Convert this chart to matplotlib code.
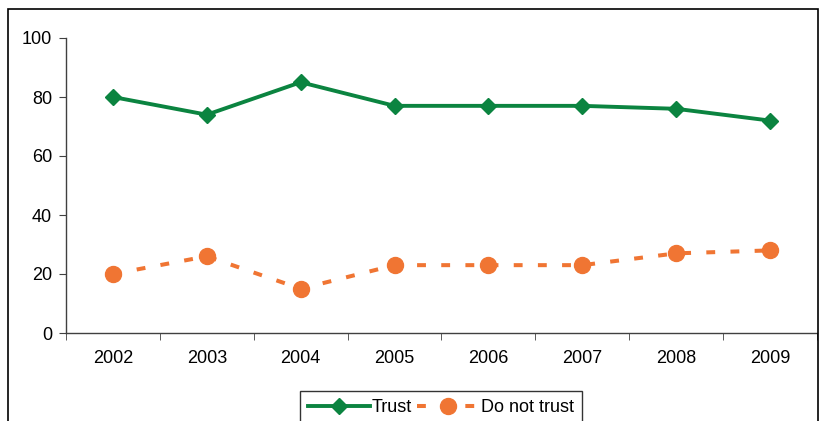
import numpy as np
import matplotlib
matplotlib.use("Agg")
import matplotlib.pyplot as plt
from matplotlib.patches import Rectangle

# data
years = ["2002", "2003", "2004", "2005", "2006", "2007", "2008", "2009"]
trust = [80, 74, 85, 77, 77, 77, 76, 72]
do_not_trust = [20, 26, 15, 23, 23, 23, 27, 28]

green = "#0b8440"
orange = "#f07533"

plt.rcParams["font.family"] = ["Liberation Sans", "DejaVu Sans"]

fig = plt.figure(figsize=(8.2, 4.21), dpi=100)
ax = fig.add_axes([66 / 820, 1 - 333 / 421, 751 / 820, 295 / 421])

x = np.arange(len(years))
ax.plot(x, trust, color=green, lw=2.8, marker="D", markersize=8.5,
        label="Trust", solid_joinstyle="miter")
ax.plot(x, do_not_trust, color=orange, lw=2.9, linestyle=(0, (2.2, 3.8)),
        marker="o", markersize=11.5, label="Do not trust")

ax.set_xlim(-0.5, len(years) - 0.5)
ax.set_ylim(0, 100)
ax.set_yticks(range(0, 101, 20))

# year labels centred, tick marks at category boundaries
ax.set_xticks(x)
ax.set_xticklabels(years)
ax.tick_params(axis="x", which="major", length=0, pad=12)
ax.set_xticks(np.arange(len(years) + 1) - 0.5, minor=True)
ax.tick_params(axis="x", which="minor", length=5, color="#404040", direction="out")
ax.tick_params(axis="y", length=5, color="#404040", pad=5)
ax.tick_params(labelsize=13)

for s in ["top", "right"]:
    ax.spines[s].set_visible(False)
for s in ["left", "bottom"]:
    ax.spines[s].set_color("#404040")
    ax.spines[s].set_linewidth(1)

# outer chart border
fig.add_artist(Rectangle((8 / 820, -0.2), 810 / 820, 1.2 - 9 / 421,
                         transform=fig.transFigure, fill=False,
                         edgecolor="black", lw=1.2, clip_on=False))

leg = fig.legend(loc="upper center", bbox_to_anchor=(441 / 820, 1 - 391 / 421),
                 ncol=2, fontsize=13, frameon=True, fancybox=False,
                 handlelength=3.4, handletextpad=0.1, columnspacing=0.3,
                 borderpad=0.45, borderaxespad=0)
leg.get_frame().set_edgecolor("black")
leg.get_frame().set_linewidth(1)

fig.savefig("out.png", dpi=100)
